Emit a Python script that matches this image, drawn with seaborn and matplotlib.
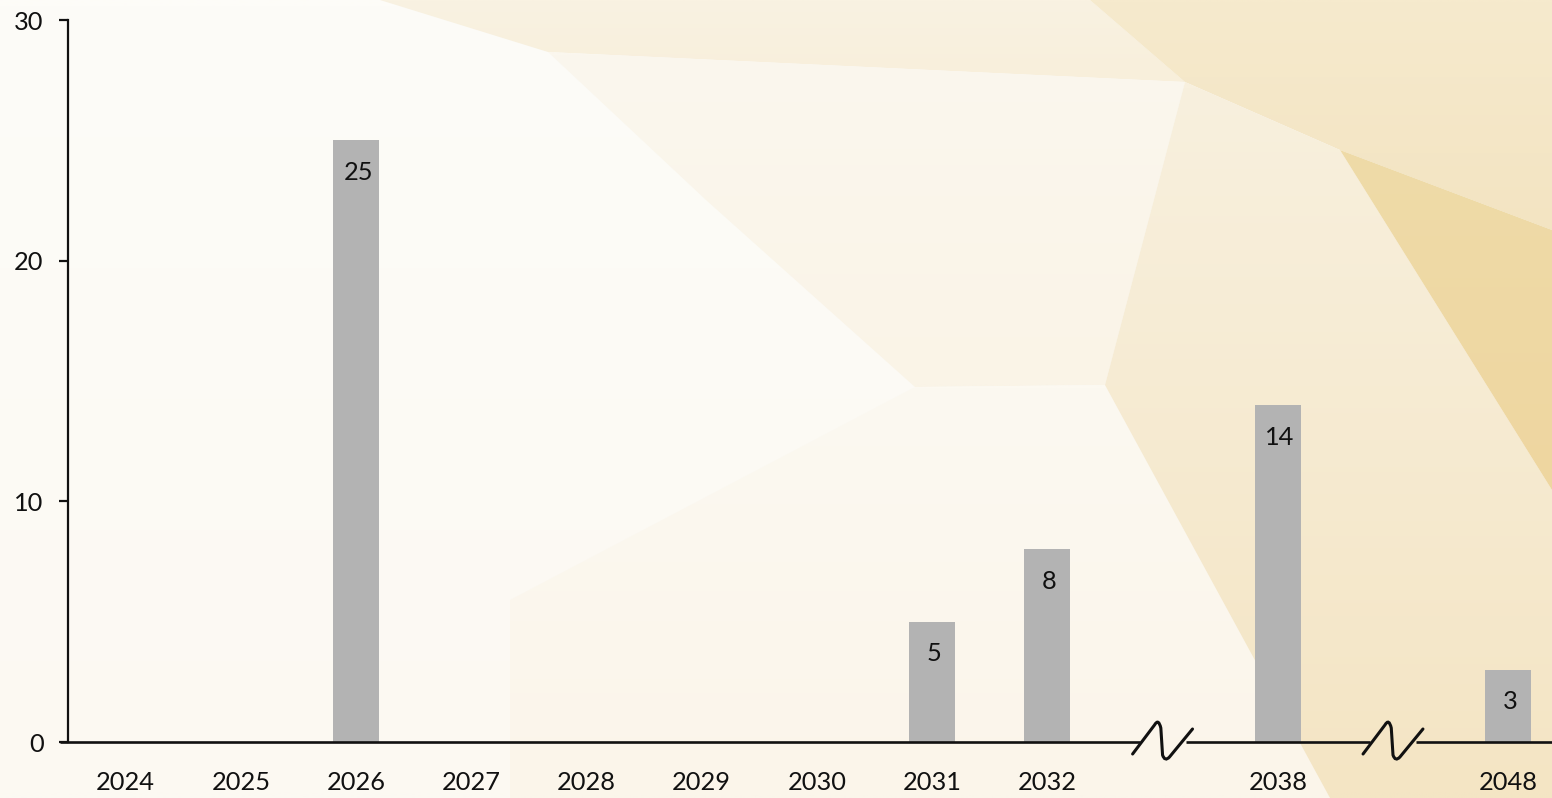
import numpy as np
import pandas as pd
import matplotlib
matplotlib.use("Agg")
import matplotlib.pyplot as plt
from matplotlib.patches import Polygon, PathPatch
from matplotlib.path import Path
from matplotlib.colors import to_rgb
import seaborn as sns

# Yearly counts; the axis jumps over the years after 2032 and after 2038
years = ["2024", "2025", "2026", "2027", "2028", "2029", "2030",
         "2031", "2032", "2038", "2048"]
counts = [0, 0, 25, 0, 0, 0, 0, 5, 8, 14, 3]
breaks_after = ["2032", "2038"]
y_ticks = [0, 10, 20, 30]

sns.set_theme(style="white")
plt.rcParams["font.family"] = ["Lato", "DejaVu Sans"]

W, H = 1552, 798
FS = 18.3
fig = plt.figure(figsize=(W / 100, H / 100), dpi=100)
fig.patch.set_facecolor("#fdfbf7")

# Backdrop: low-poly cream/gold facets, each shaded with a soft gradient
bg = fig.add_axes([0, 0, 1, 1], zorder=-5)
bg.set_xlim(0, W)
bg.set_ylim(H, 0)
bg.axis("off")


def facet(pts, c_top, c_bottom):
    poly = Polygon(pts, closed=True, facecolor="none", edgecolor="none")
    bg.add_patch(poly)
    ys = [p[1] for p in pts]
    xs = [p[0] for p in pts]
    t = np.linspace(0, 1, 64)[:, None]
    grad = (1 - t) * np.array(to_rgb(c_top)) + t * np.array(to_rgb(c_bottom))
    im = bg.imshow(grad[:, None, :].repeat(2, axis=1),
                   extent=[min(xs), max(xs), max(ys), min(ys)],
                   aspect="auto", interpolation="bilinear", zorder=1)
    im.set_clip_path(poly)


facet([(0, 0), (1552, 0), (1552, 798), (0, 798)], "#fdfcf8", "#fcf9f2")
facet([(380, 0), (1090, 0), (1185, 82), (548, 52)], "#f9f2e2", "#f8efdb")
facet([(1090, 0), (1552, 0), (1552, 230), (1340, 150), (1185, 82)],
      "#f6eacd", "#f3e4c2")
facet([(548, 52), (1185, 82), (1105, 385), (915, 387), (706, 200)],
      "#fbf7ee", "#faf4e7")
facet([(915, 387), (1105, 385), (1330, 798), (510, 798), (510, 600)],
      "#fcf9f1", "#fbf5ea")
facet([(1185, 82), (1340, 150), (1552, 490), (1552, 798), (1330, 798),
       (1105, 385)], "#f8f0de", "#f4e5c4")
facet([(1340, 150), (1552, 230), (1552, 490)], "#efdba8", "#eed6a0")

# Slot positions: each break occupies one empty slot
positions = []
slot = 0
for yr in years:
    positions.append(slot)
    slot += 2 if yr in breaks_after else 1
break_slots = [positions[years.index(b)] + 1 for b in breaks_after]

ax_left, ax_bottom = 68 / W, 56 / H
ax = fig.add_axes([ax_left, ax_bottom, 1 - ax_left, 722 / H])
ax.patch.set_alpha(0)

df = pd.DataFrame({"pos": positions, "count": counts})
sns.barplot(data=df, x="pos", y="count", native_scale=True, width=0.4,
            color="#b3b3b3", saturation=1, ax=ax, errorbar=None,
            linewidth=0, edgecolor="none")

ax.set_xlim(-0.5, positions[-1] + 0.38)
ax.set_ylim(0, 30)
ax.set_yticks(y_ticks)
ax.set_yticklabels([str(t) for t in y_ticks], fontsize=FS, color="#111111")
ax.set_xticks(positions)
ax.set_xticklabels(years, fontsize=FS, color="#111111")
ax.set_xlabel("")
ax.set_ylabel("")
ax.tick_params(axis="y", length=6.5, width=1.6, color="#111111", pad=11,
               left=True)
ax.tick_params(axis="x", length=0, pad=21)

for side in ["top", "right", "bottom"]:
    ax.spines[side].set_visible(False)
ax.spines["left"].set_color("#111111")
ax.spines["left"].set_linewidth(1.6)

# Value labels inside the top of each bar
for p, v in zip(positions, counts):
    if v > 0:
        ax.annotate(str(v), xy=(p, v), xytext=(2, -32),
                    textcoords="offset pixels", ha="center", va="center",
                    fontsize=FS, color="#111111")

# Baseline broken at each axis break
gap = 0.2
edges = [-0.57] + [e for b in break_slots for e in (b - gap, b + gap)] \
        + [positions[-1] + 0.6]
for x0, x1 in zip(edges[::2], edges[1::2]):
    ax.plot([x0, x1], [0, 0], color="#111111", lw=1.9, clip_on=False,
            solid_capstyle="butt", zorder=3)

# Hand-drawn style break glyphs
px_per_unit = 722 / 30
for b in break_slots:
    def pt(dx, dy_px):
        return (b + dx, -dy_px / px_per_unit)
    verts = [pt(-0.26, 12), pt(-0.07, -17), pt(-0.035, -24), pt(-0.015, -14),
             pt(0.0, 13), pt(0.02, 20), pt(0.06, 15), pt(0.26, -13)]
    codes = [Path.MOVETO, Path.LINETO, Path.CURVE3, Path.CURVE3,
             Path.LINETO, Path.CURVE3, Path.CURVE3, Path.LINETO]
    ax.add_patch(PathPatch(Path(verts, codes), facecolor="none",
                           edgecolor="#111111", lw=2.2, clip_on=False,
                           capstyle="round", zorder=4))

fig.savefig("out.png", dpi=100, facecolor=fig.get_facecolor())
